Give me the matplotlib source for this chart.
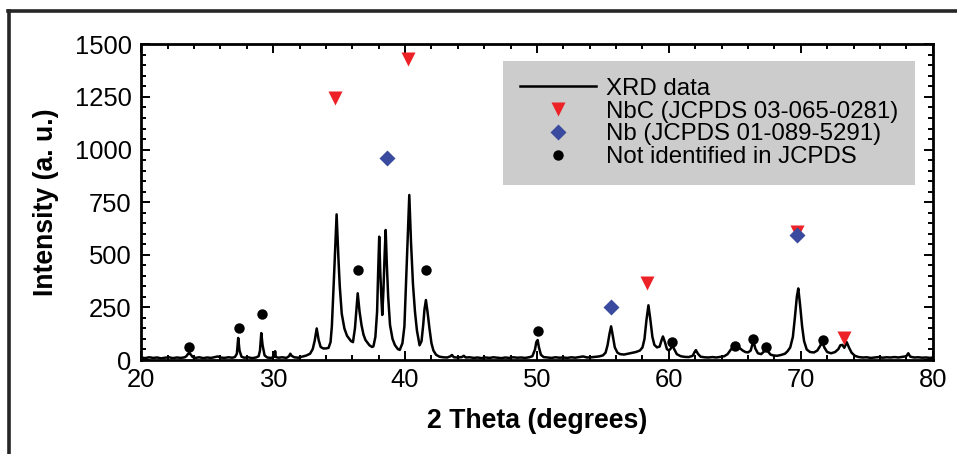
import numpy as np
import matplotlib.pyplot as plt
from matplotlib.lines import Line2D
from matplotlib.ticker import MultipleLocator

plt.rcParams['font.family'] = ['Liberation Sans', 'DejaVu Sans']

# XRD pattern traced as (2 theta, intensity) pairs
two_theta = [
    20.0, 20.3, 20.6, 20.9, 21.2, 21.5, 21.8, 22.1, 22.4, 22.7, 23.0, 23.3,
    23.45, 23.55, 23.65, 23.75, 23.9, 24.1, 24.4, 24.7, 25.0, 25.3, 25.6,
    25.8, 26.0, 26.3, 26.6, 26.9, 27.1, 27.25, 27.35, 27.45, 27.6, 27.8,
    28.1, 28.4, 28.7, 28.9, 29.0, 29.1, 29.2, 29.35, 29.55, 29.8, 30.0,
    30.1, 30.15, 30.2, 30.4, 30.7, 31.0, 31.2, 31.3, 31.4, 31.6, 31.9,
    32.2, 32.5, 32.8, 33.0, 33.15, 33.3, 33.45, 33.6, 33.8, 34.0, 34.2,
    34.35, 34.45, 34.55, 34.65, 34.81, 34.95, 35.05, 35.2, 35.4, 35.6,
    35.9, 36.05, 36.2, 36.3, 36.41, 36.55, 36.7, 36.85, 37.0, 37.3, 37.5,
    37.6, 37.75, 37.88, 37.96, 38.04, 38.12, 38.2, 38.27, 38.36, 38.45,
    38.53, 38.62, 38.72, 38.86, 39.05, 39.23, 39.45, 39.6, 39.8, 39.95,
    40.07, 40.2, 40.32, 40.45, 40.6, 40.75, 40.9, 41.1, 41.25, 41.38,
    41.47, 41.58, 41.7, 41.85, 42.0, 42.15, 42.35, 42.6, 42.9, 43.2,
    43.45, 43.55, 43.7, 44.0, 44.3, 44.45, 44.6, 44.9, 45.2, 45.5, 45.8,
    46.1, 46.4, 46.7, 47.0, 47.3, 47.6, 47.9, 48.2, 48.5, 48.8, 49.1,
    49.4, 49.65, 49.85, 49.95, 50.05, 50.15, 50.3, 50.5, 50.8, 51.1,
    51.4, 51.7, 52.0, 52.3, 52.6, 52.9, 53.2, 53.5, 53.8, 54.1, 54.4,
    54.7, 55.0, 55.2, 55.35, 55.5, 55.62, 55.75, 55.9, 56.1, 56.3, 56.6,
    56.9, 57.2, 57.5, 57.8, 58.0, 58.15, 58.3, 58.45, 58.6, 58.75, 58.9,
    59.1, 59.3, 59.45, 59.55, 59.7, 59.85, 60.0, 60.15, 60.26, 60.4, 60.6,
    60.9, 61.2, 61.5, 61.8, 61.95, 62.05, 62.2, 62.4, 62.7, 63.0, 63.3,
    63.6, 63.9, 64.2, 64.45, 64.7, 64.9, 65.05, 65.2, 65.4, 65.6, 65.8,
    66.0, 66.2, 66.32, 66.42, 66.55, 66.75, 67.0, 67.2, 67.36, 67.5, 67.7,
    67.9, 68.2, 68.5, 68.8, 69.0, 69.2, 69.4, 69.55, 69.7, 69.81, 69.95,
    70.1, 70.25, 70.45, 70.7, 71.0, 71.25, 71.45, 71.63, 71.8, 72.0, 72.3,
    72.6, 72.85, 73.0, 73.15, 73.3, 73.48, 73.65, 73.85, 74.1, 74.4, 74.7,
    75.0, 75.3, 75.6, 75.9, 76.2, 76.5, 76.8, 77.1, 77.4, 77.7, 78.0,
    78.15, 78.3, 78.6, 78.9, 79.2, 79.5, 79.8, 80.0,
]
intensity = [
    12, 9, 13, 10, 12, 8, 11, 13, 9, 12, 10, 13,
    20, 30, 34, 26, 14, 10, 13, 9, 12, 10, 14,
    17, 12, 10, 13, 11, 14, 30, 105, 45, 16, 11,
    13, 9, 12, 18, 45, 128, 70, 22, 12, 10, 13,
    18, 42, 14, 11, 13, 10, 18, 30, 20, 13, 11,
    16, 21, 30, 52, 92, 150, 95, 62, 55, 55, 58,
    85, 160, 300, 450, 692, 480, 350, 220, 150, 115,
    90, 85, 150, 230, 317, 230, 165, 120, 95, 70, 62,
    65, 110, 230, 420, 586, 420, 300, 214, 330, 500,
    618, 450, 300, 166, 100, 71, 52, 48, 80, 160,
    356, 580, 784, 560, 360, 230, 140, 70, 90, 170,
    240, 285, 230, 150, 80, 45, 25, 16, 13, 12,
    18, 24, 13, 12, 14, 20, 12, 13, 10, 12, 9,
    12, 10, 13, 11, 9, 12, 10, 13, 11, 12, 10,
    13, 18, 50, 85, 95, 60, 25, 14, 12, 10,
    13, 11, 12, 10, 13, 11, 14, 17, 12, 13, 15,
    17, 22, 35, 70, 125, 160, 115, 60, 35, 28, 26,
    30, 34, 38, 45, 60, 100, 190, 260, 190, 110, 72,
    60, 64, 95, 112, 85, 52, 45, 55, 72, 52, 28,
    18, 15, 14, 20, 38, 47, 30, 16, 13, 12, 14,
    12, 15, 18, 28, 50, 60, 66, 62, 55, 45, 38,
    36, 45, 72, 88, 55, 32, 28, 40, 57, 42, 26,
    22, 20, 24, 30, 42, 60, 110, 200, 300, 340, 260,
    160, 90, 50, 38, 36, 45, 65, 85, 58, 38, 32,
    38, 52, 70, 72, 58, 85, 60, 35, 20, 14, 12,
    13, 10, 12, 14, 11, 13, 12, 14, 12, 15, 18,
    32, 16, 12, 13, 11, 12, 10, 12,
]

# NbC reference peaks (JCPDS 03-065-0281)
nbc_x = [34.7, 40.25, 58.35, 69.7, 73.3]
nbc_y = [1245, 1430, 365, 608, 103]

# Nb reference peaks (JCPDS 01-089-5291)
nb_x = [38.6, 55.65, 69.75]
nb_y = [962, 250, 592]

# peaks not found in JCPDS
unk_x = [23.62, 27.38, 29.13, 36.4, 41.56, 50.05, 60.26, 65.0, 66.4, 67.36, 71.66]
unk_y = [63, 150, 217, 430, 427, 138, 84, 66, 100, 60, 95]

fig = plt.figure(figsize=(9.57, 4.54), dpi=100)
ax = fig.add_axes([0.1476, 0.2070, 0.8270, 0.6954])

ax.plot(two_theta, intensity, color='black', lw=1.8, label='XRD data')
ax.plot(nbc_x, nbc_y, ls='none', marker='v', ms=9.5, color='#ED2226',
        mec='none', label='NbC (JCPDS 03-065-0281)')
ax.plot(nb_x, nb_y, ls='none', marker='D', ms=8.3, color='#3A4A9E',
        mec='none', label='Nb (JCPDS 01-089-5291)')
ax.plot(unk_x, unk_y, ls='none', marker='o', ms=7.5, color='black',
        mec='none', label='Not identified in JCPDS')

ax.set_xlim(20, 80)
ax.set_ylim(0, 1500)
ax.xaxis.set_major_locator(MultipleLocator(10))
ax.xaxis.set_minor_locator(MultipleLocator(2))
ax.yaxis.set_major_locator(MultipleLocator(250))
ax.yaxis.set_minor_locator(MultipleLocator(50))
ax.tick_params(which='both', direction='in', top=True, right=True,
               width=1.4, labelsize=18.4)
ax.tick_params(which='major', length=6.5)
ax.tick_params(which='minor', length=3.6)
ax.tick_params(axis='y', which='major', pad=7)
ax.tick_params(axis='x', which='major', pad=5.5)
for sp in ax.spines.values():
    sp.set_linewidth(2)

ax.set_xlabel('2 Theta (degrees)', fontsize=19.2, fontweight='bold')
ax.set_ylabel('Intensity (a. u.)', fontsize=19.2, fontweight='bold')
ax.xaxis.set_label_coords(0.5, -0.152)
ax.yaxis.set_label_coords(-0.1034, 0.5)

leg = ax.legend(loc='upper left', bbox_to_anchor=(0.4567, 0.947),
                borderaxespad=0, fontsize=17.3, frameon=True, fancybox=False,
                facecolor='#cccccc', edgecolor='none', framealpha=1,
                handlelength=3.2, handletextpad=0.38, labelspacing=0.03,
                borderpad=0.7)

# outer frame around the figure (left and top edges)
fig.add_artist(Line2D([0.0099, 0.0099], [0.0, 0.9758], color='#262626',
                      lw=2.6, transform=fig.transFigure))
fig.add_artist(Line2D([0.0084, 1.0], [0.9758, 0.9758], color='#262626',
                      lw=2.6, transform=fig.transFigure))

fig.savefig('out.png', dpi=100)
